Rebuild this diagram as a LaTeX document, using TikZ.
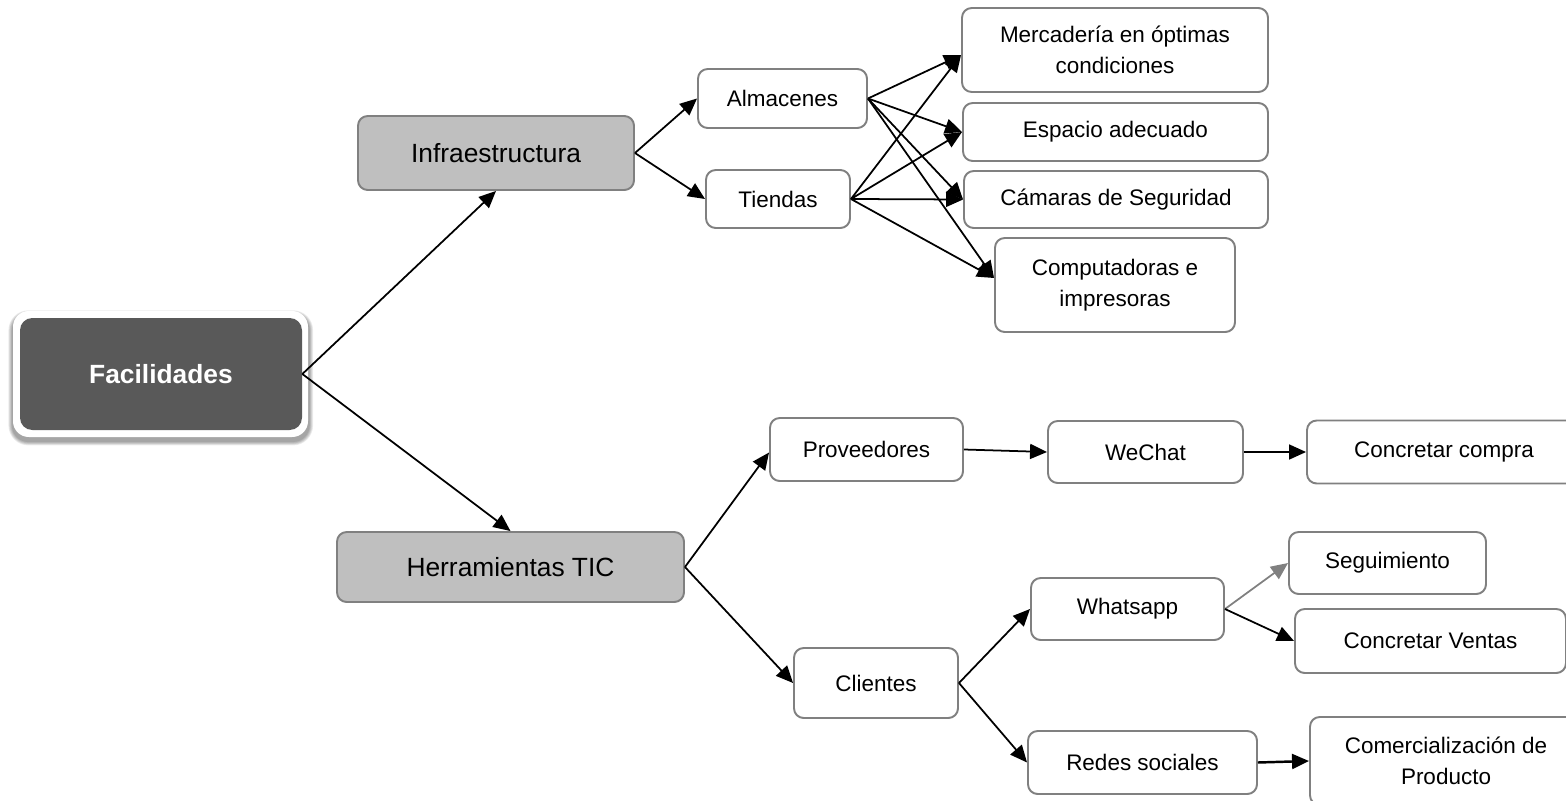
\documentclass[tikz,border=0pt]{standalone}
\usepackage{fontspec}
\setmainfont{Liberation Sans}
\usetikzlibrary{arrows.meta,backgrounds}
\definecolor{boxline}{RGB}{128,128,128}
\definecolor{lightgrayfill}{RGB}{191,191,191}
\definecolor{darkfill}{RGB}{89,89,89}
\tikzset{
  leaf/.style={draw=boxline, line width=1.1pt, rounded corners=5.5pt, fill=white,
    align=center, inner sep=0pt, font=\fontsize{12.8}{17.5}\selectfont},
  midbox/.style={draw=boxline, line width=1.1pt, rounded corners=5.5pt, fill=lightgrayfill,
    align=center, inner sep=0pt, font=\fontsize{15}{18}\selectfont},
  facframe/.style={fill=white, rounded corners=9pt, inner sep=0pt},
  facbox/.style={fill=darkfill, rounded corners=7pt, inner sep=0pt, text=white,
    font=\fontsize{15}{18}\selectfont\bfseries},
  softshadow/.style={fill=black, opacity=0.07},
  conn/.style={line width=1pt, -{Triangle[length=0.34cm,width=0.3cm]}},
  sz/.style 2 args={minimum width=#1*0.02cm, minimum height=#2*0.02cm},
}
\begin{document}
\begin{tikzpicture}[x=0.02cm,y=-0.02cm]
\useasboundingbox (0,0) rectangle (1566,801);

% root
\node[facframe, sz={295}{126}] (facfr) at (160.5,374) {};
\node[facbox, sz={282}{112}] (fac) at (161,374) {Facilidades};
\begin{scope}[on background layer]
  \foreach \k in {0.4,0.8,1.2,1.6,2.0,2.4}{
    \fill[softshadow, rounded corners=9pt+\k pt]
      ([shift={(-\k pt,-\k pt-2.2pt)}]facfr.south west) rectangle
      ([shift={(\k pt+0.3pt,\k pt-2.2pt)}]facfr.north east);
  }
\end{scope}

% level 1
\node[midbox, sz={276}{74}] (infra) at (496,153) {Infraestructura};
\node[midbox, sz={347}{70}] (herr) at (510.5,567) {Herramientas TIC};

% infraestructura branch
\node[leaf, sz={169}{59}] (alm) at (782.5,98.5) {Almacenes};
\node[leaf, sz={144}{58}] (tie) at (778,199) {Tiendas};
\node[leaf, sz={306}{84}] (mer) at (1115,50) {Mercadería en óptimas\\condiciones};
\node[leaf, sz={305}{58}] (esp) at (1115.5,132) {Espacio adecuado};
\node[leaf, sz={304}{57}] (cam) at (1116,199.5) {Cámaras de Seguridad};
\node[leaf, sz={240}{94}] (comp) at (1115,285) {Computadoras e\\impresoras};

% herramientas branch
\node[leaf, sz={193}{63}] (prov) at (866.5,449.5) {Proveedores};
\node[leaf, sz={195}{62}] (wec) at (1145.5,452) {WeChat};
\node[leaf, sz={274}{63}] (ccomp) at (1444,452) {Concretar compra};
\node[leaf, sz={164}{70}] (cli) at (876,683) {Clientes};
\node[leaf, sz={193}{62}] (wha) at (1127.5,609) {Whatsapp};
\node[leaf, sz={197}{62}] (seg) at (1387.5,563) {Seguimiento};
\node[leaf, sz={271}{64}] (cv) at (1430.5,641) {Concretar Ventas};
\node[leaf, sz={229}{63}] (red) at (1142.5,762.5) {Redes sociales};
\node[leaf, sz={272}{88}] (comer) at (1446,761) {Comercialización de\\Producto};

% connectors
\draw[conn] (fac.east) -- (infra.south);
\draw[conn] (fac.east) -- (herr.north);
\draw[conn] (infra.east) -- (alm.west);
\draw[conn] (infra.east) -- (tie.west);

\draw[conn] (alm.east) -- ([yshift=-0.1cm]mer.west);
\draw[conn] (alm.east) -- (esp.west);
\draw[conn] (alm.east) -- (cam.west);
\draw[conn] (alm.east) -- ([yshift=0.14cm]comp.west);
\draw[conn] (tie.east) -- ([yshift=-0.1cm]mer.west);
\draw[conn] (tie.east) -- (esp.west);
\draw[conn] (tie.east) -- (cam.west);
\draw[conn] (tie.east) -- ([yshift=0.14cm]comp.west);

\draw[conn] (herr.east) -- ([yshift=-0.06cm]prov.west);
\draw[conn] (herr.east) -- (cli.west);
\draw[conn] (prov.east) -- (wec.west);
\draw[conn] (wec.east) -- (ccomp.west);
\draw[conn] (cli.east) -- (wha.west);
\draw[conn] (cli.east) -- (red.west);
\draw[conn, draw=boxline, fill=boxline] (wha.east) -- (seg.west);
\draw[conn] (wha.east) -- (cv.west);
\draw[conn, line width=1.4pt] (red.east) -- (comer.west);
\end{tikzpicture}
\end{document}
